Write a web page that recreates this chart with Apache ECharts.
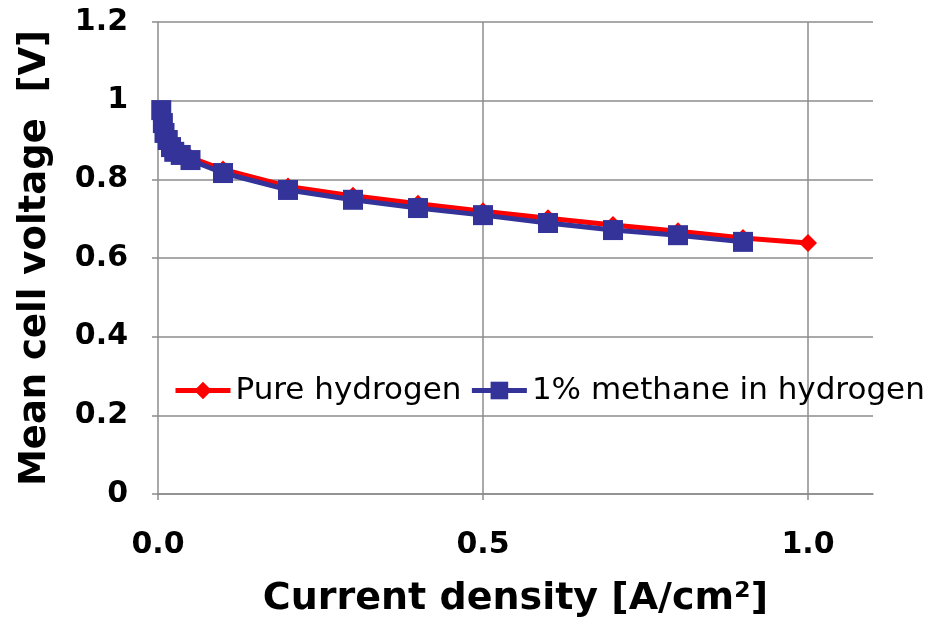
<!DOCTYPE html>
<html><head><meta charset="utf-8">
<script src="https://cdn.jsdelivr.net/npm/echarts@6/dist/echarts.min.js"></script>
<style>html,body{margin:0;padding:0;background:#fff}#c{width:947px;height:629px}</style>
</head><body><div id="c"></div>
<script>
const currentDensity = [0.005, 0.0075, 0.01, 0.015, 0.02, 0.025, 0.035, 0.05, 0.1, 0.2, 0.3, 0.4, 0.5, 0.6, 0.7, 0.8, 0.9, 1.0];
const pureHydrogen = [0.978, 0.946, 0.922, 0.904, 0.887, 0.875, 0.867, 0.855, 0.825, 0.782, 0.758, 0.738, 0.719, 0.701, 0.684, 0.668, 0.651, 0.638];
const methaneInHydrogen = [0.976, 0.943, 0.918, 0.900, 0.882, 0.870, 0.862, 0.849, 0.816, 0.773, 0.748, 0.727, 0.709, 0.689, 0.671, 0.658, 0.641];
const seriesNames = ['Pure hydrogen', '1% methane in hydrogen'];
const xGridValues = [0.5, 1.0];

const pairs = (xs, ys) => ys.map((y, i) => [xs[i], y]);
const FONT = 'DejaVu Sans';
const grey = '#8c8c8c';

const chart = echarts.init(document.getElementById('c'));
chart.setOption({
  animation: false,
  grid: { left: 158, right: 74, top: 22, bottom: 135 },
  legend: {
    left: 168, top: 370, itemWidth: 55, itemHeight: 22, itemGap: 8,
    lineStyle: { width: 5 },
    textStyle: { fontFamily: FONT, fontSize: 31, color: '#000' },
    data: seriesNames
  },
  xAxis: {
    type: 'value', min: 0, max: 1.1, interval: 0.5,
    name: 'Current density [A/cm²]', nameLocation: 'middle', nameGap: 86,
    nameTextStyle: { fontFamily: FONT, fontWeight: 'bold', fontSize: 38, color: '#000' },
    axisLine: { show: true, lineStyle: { color: grey, width: 1.5 } },
    axisTick: { show: true, length: 6, lineStyle: { color: grey, width: 1.5 } },
    axisLabel: { margin: 36, showMaxLabel: false, fontFamily: FONT, fontWeight: 'bold', fontSize: 30, color: '#000',
      formatter: v => v.toFixed(1) },
    splitLine: { show: false }
  },
  yAxis: {
    type: 'value', min: 0, max: 1.2, interval: 0.2,
    name: 'Mean cell voltage  [V]', nameLocation: 'middle', nameGap: 104, nameRotate: 90,
    nameTextStyle: { fontFamily: FONT, fontWeight: 'bold', fontSize: 37, color: '#000' },
    axisLine: { show: true, lineStyle: { color: grey, width: 1.5 } },
    axisTick: { show: true, length: 6, lineStyle: { color: grey, width: 1.5 } },
    axisLabel: { margin: 30, fontFamily: FONT, fontWeight: 'bold', fontSize: 30, color: '#000',
      formatter: v => (v === 0 || v === 1) ? String(v) : v.toFixed(1) },
    splitLine: { show: true, lineStyle: { color: grey, width: 1.5 } }
  },
  series: [
    {
      name: seriesNames[0], type: 'line', data: pairs(currentDensity, pureHydrogen),
      symbol: 'diamond', symbolSize: 18, color: '#ff0000',
      lineStyle: { width: 5, color: '#ff0000' }, itemStyle: { color: '#ff0000' },
      markLine: {
        silent: true, symbol: 'none', label: { show: false },
        lineStyle: { color: grey, width: 1.5, type: 'solid' },
        data: xGridValues.map(v => ({ xAxis: v })), z: 0
      },
      z: 2
    },
    {
      name: seriesNames[1], type: 'line', data: pairs(currentDensity, methaneInHydrogen),
      symbol: 'rect', symbolSize: 20, color: '#333399',
      lineStyle: { width: 5, color: '#333399' }, itemStyle: { color: '#333399' },
      z: 3
    }
  ]
});
</script></body></html>
